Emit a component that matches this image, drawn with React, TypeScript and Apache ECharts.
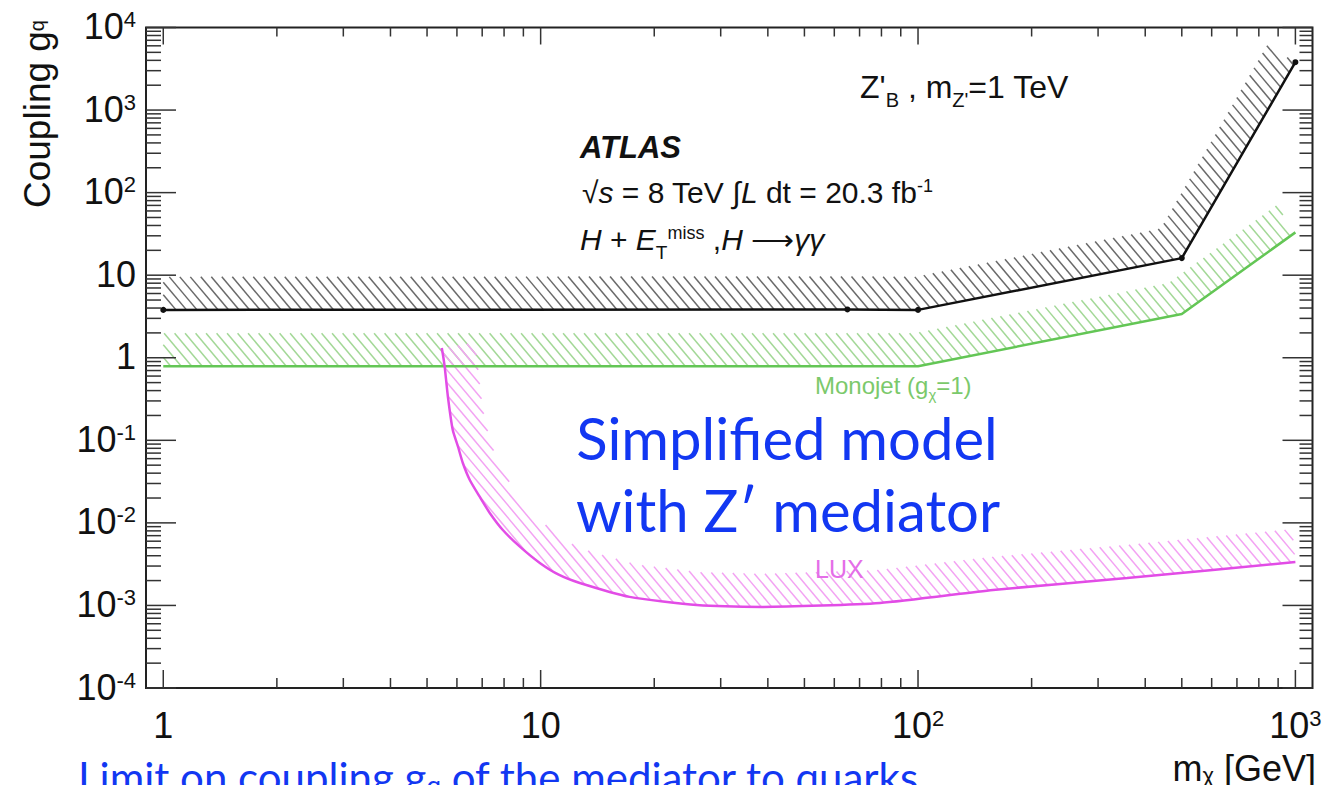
import React, { useEffect, useRef } from "react";
import * as echarts from "echarts";

// ---------------- data ----------------
const X_RANGE = [0.9, 1110];
const Y_RANGE = [1e-4, 1e4];
const X_MAJOR = [1, 10, 100, 1000];
const Y_MAJOR = [1e-4, 1e-3, 1e-2, 1e-1, 1, 10, 100, 1000, 10000];
const MINOR_MULTIPLES = [2, 3, 4, 5, 6, 7, 8, 9];

// ATLAS H + E_T^miss, H -> gamma gamma limit
const ATLAS_X = [1, 65, 100, 500, 1000];
const ATLAS_Y = [3.8, 3.85, 3.8, 16.1, 3800];
// Monojet (g_chi = 1)
const MONO_X = [1, 100, 500, 1000];
const MONO_Y = [0.79, 0.79, 3.38, 33];
// LUX
const LUX_X = [5.47, 5.52, 5.57, 5.68, 5.85, 6.04, 6.22, 6.49, 6.9, 7.33, 7.94, 8.81, 9.95, 11.2, 12.7, 17.2, 25.9, 38.8, 79.3, 158, 358, 1000];
const LUX_Y = [1.31, 1.03, 0.77, 0.334, 0.133, 0.0836, 0.0531, 0.0331, 0.0206, 0.0132, 0.0082, 0.00515, 0.00327, 0.00234, 0.00187, 0.00127, 0.00101, 0.00096, 0.00107, 0.00154, 0.00215, 0.00336];

// ---------------- styles ----------------
const ROOT_FONT = "'Liberation Sans', Arial, Helvetica, sans-serif";
const BLUE_FONT = "Lato, 'Noto Sans', sans-serif";
const TICK_COLOR = "#333";
const BLUE = "#1237f2";
const HATCH_ANGLE = 50;
const HATCH_STEP = 10.5;
const HATCH_WIDTH = 33;

// rich-text helper: main tokens top-aligned, subscripts bottom-aligned,
// superscripts top-aligned; returns the y shift that keeps the main text
// centred on the anchor.
function richFor(F: number, family: string, fill: string, drop = 0.4, subFrac = 0.62, supFrac = 0.6) {
  const f = Math.round(F * subFrac);
  const fs = Math.round(F * supFrac);
  const centred = drop <= 0.001;
  const LH = centred ? F : Math.max(F, Math.round(drop * F + (F + f) / 2));
  return {
    shift: (LH - F) / 2,
    rich: {
      n: { fontSize: F, lineHeight: LH, verticalAlign: "top", fontFamily: family, fill },
      i: { fontSize: F, lineHeight: LH, verticalAlign: "top", fontFamily: family, fontStyle: "italic", fill },
      sb: { fontSize: f, lineHeight: f, verticalAlign: centred ? "middle" : "bottom", fontFamily: family, fill },
      sp: { fontSize: fs, lineHeight: fs, verticalAlign: "top", fontFamily: family, fill },
    },
  };
}

const TICK_RICH = {
  n: { fontSize: 36, lineHeight: 44, verticalAlign: "top", fontFamily: ROOT_FONT, fill: "#111" },
  sp: { fontSize: 22, lineHeight: 24, verticalAlign: "top", fontFamily: ROOT_FONT, fill: "#111" },
};

function expLabel(v: number) {
  const e = Math.round(Math.log10(v));
  if (e === 0) return "{n|1}";
  if (e === 1) return "{n|10}";
  return "{n|10}{sp|" + e + "}";
}

function makeHatch(xs: number[], ys: number[], color: string) {
  return (params: any, api: any) => {
    if (params.dataIndex !== 0) return null;
    const pts: number[][] = xs.map((x, i) => api.coord([x, ys[i]]));
    const n = pts.length;
    const segN: number[][] = [];
    for (let i = 0; i < n - 1; i++) {
      const dx = pts[i + 1][0] - pts[i][0];
      const dy = pts[i + 1][1] - pts[i][1];
      const L = Math.hypot(dx, dy) || 1;
      segN.push([dy / L, -dx / L]);
    }
    const off = pts.map((p, i) => {
      let nx: number, ny: number;
      if (i === 0) { nx = segN[0][0]; ny = segN[0][1]; }
      else if (i === n - 1) { nx = segN[n - 2][0]; ny = segN[n - 2][1]; }
      else {
        const a = segN[i - 1], b = segN[i];
        let mx = a[0] + b[0], my = a[1] + b[1];
        const ml = Math.hypot(mx, my) || 1;
        mx /= ml; my /= ml;
        const c = Math.max(0.5, mx * a[0] + my * a[1]);
        nx = mx / c; ny = my / c;
      }
      return [p[0] + nx * HATCH_WIDTH, p[1] + ny * HATCH_WIDTH];
    });
    const poly = pts.concat(off.slice().reverse());
    const ang = (HATCH_ANGLE * Math.PI) / 180;
    const hx = Math.cos(ang), hy = Math.sin(ang);
    const nvx = Math.sin(ang), nvy = -Math.cos(ang);
    const d = HATCH_STEP * Math.sin(ang);
    let cmin = Infinity, cmax = -Infinity;
    poly.forEach((p) => {
      const c = p[0] * nvx + p[1] * nvy;
      if (c < cmin) cmin = c;
      if (c > cmax) cmax = c;
    });
    const children: any[] = [];
    const m = poly.length;
    for (let c = Math.ceil(cmin / d) * d; c <= cmax; c += d) {
      const hits: { u: number; x: number; y: number }[] = [];
      for (let i = 0; i < m; i++) {
        const A = poly[i], B = poly[(i + 1) % m];
        const fa = A[0] * nvx + A[1] * nvy - c;
        const fb = B[0] * nvx + B[1] * nvy - c;
        if ((fa < 0) !== (fb < 0)) {
          const t = fa / (fa - fb);
          const x = A[0] + t * (B[0] - A[0]);
          const y = A[1] + t * (B[1] - A[1]);
          hits.push({ u: x * hx + y * hy, x, y });
        }
      }
      hits.sort((p, q) => p.u - q.u);
      for (let k = 0; k + 1 < hits.length; k += 2) {
        children.push({
          type: "line",
          shape: { x1: hits[k].x, y1: hits[k].y, x2: hits[k + 1].x, y2: hits[k + 1].y },
          style: { stroke: color, lineWidth: 1.5 },
        });
      }
    }
    return { type: "group", children };
  };
}

function richText(x: number, y: number, text: string, r: { shift: number; rich: any }, align = "left") {
  return {
    type: "text",
    x,
    y: y + r.shift,
    z: 20,
    style: { text, rich: r.rich, align, verticalAlign: "middle" },
  };
}

export default function App() {
  const ref = useRef<HTMLDivElement>(null);

  useEffect(() => {
    document.body.style.margin = "0";
    if (!ref.current) return;
    const chart = echarts.init(ref.current, undefined, { renderer: "svg" });

    const xTicks: number[][] = X_MAJOR.map((v) => [v, 1, 1]);
    for (let e = -1; e <= 3; e++) {
      MINOR_MULTIPLES.forEach((mm) => {
        const v = mm * Math.pow(10, e);
        if (v > X_RANGE[0] * 1.01 && v < X_RANGE[1] * 0.99) xTicks.push([v, 1, 0]);
      });
    }
    const yTicks: number[][] = Y_MAJOR.map((v) => [1, v, 1]);
    for (let e = -4; e <= 3; e++) {
      MINOR_MULTIPLES.forEach((mm) => yTicks.push([1, mm * Math.pow(10, e), 0]));
    }

    const axisCommon = {
      axisLine: { show: false },
      axisTick: { show: false },
      axisLabel: { show: false },
      splitLine: { show: false },
      minorTick: { show: false },
      minorSplitLine: { show: false },
    };

    const rModel = richFor(32, ROOT_FONT, "#111", 0.4);
    const rLumi = richFor(30, ROOT_FONT, "#111", 0.4);
    const rChan = richFor(30, ROOT_FONT, "#111", 0.45);
    const rMono = richFor(24, ROOT_FONT, "#7bc96b", 0.4);
    const rCap = richFor(42, BLUE_FONT, BLUE, 0.1);
    const rYT = richFor(37, ROOT_FONT, "#111", 0, 0.55);
    const rXT = richFor(36, ROOT_FONT, "#111", 0.17);

    const option: any = {
      animation: false,
      backgroundColor: "#fff",
      grid: {
        left: 146,
        top: 27.5,
        width: 1166.5,
        height: 660.5,
        show: true,
        borderColor: "#222",
        borderWidth: 2,
        backgroundColor: "transparent",
      },
      xAxis: { type: "log", logBase: 10, min: X_RANGE[0], max: X_RANGE[1], ...axisCommon },
      yAxis: { type: "log", logBase: 10, min: Y_RANGE[0], max: Y_RANGE[1], ...axisCommon },
      series: [
        {
          type: "custom",
          name: "monojet-hatch",
          renderItem: makeHatch(MONO_X, MONO_Y, "#a3d897"),
          data: [[MONO_X[0], MONO_Y[0]]],
          z: 2,
          silent: true,
        },
        {
          type: "custom",
          name: "lux-hatch",
          renderItem: makeHatch(LUX_X, LUX_Y, "#f3a3f3"),
          data: [[LUX_X[0], LUX_Y[0]]],
          z: 2,
          silent: true,
        },
        {
          type: "custom",
          name: "atlas-hatch",
          renderItem: makeHatch(ATLAS_X, ATLAS_Y, "#6a6a6a"),
          data: [[ATLAS_X[0], ATLAS_Y[0]]],
          z: 2,
          silent: true,
        },
        {
          type: "line",
          name: "Monojet",
          data: MONO_X.map((x, i) => [x, MONO_Y[i]]),
          showSymbol: false,
          symbol: "none",
          lineStyle: { color: "#63c655", width: 2.5 },
          z: 5,
          silent: true,
        },
        {
          type: "line",
          name: "LUX",
          data: LUX_X.map((x, i) => [x, LUX_Y[i]]),
          showSymbol: false,
          symbol: "none",
          smooth: 0.2,
          lineStyle: { color: "#e24ce6", width: 2.5 },
          z: 5,
          silent: true,
        },
        {
          type: "line",
          name: "ATLAS",
          data: ATLAS_X.map((x, i) => [x, ATLAS_Y[i]]),
          symbol: "circle",
          symbolSize: 6,
          showSymbol: true,
          itemStyle: { color: "#111" },
          lineStyle: { color: "#111", width: 2.5 },
          z: 6,
          silent: true,
        },
        {
          type: "custom",
          name: "x-ticks",
          data: xTicks,
          z: 10,
          silent: true,
          renderItem: (params: any, api: any) => {
            const v = api.value(0);
            const major = api.value(2) === 1;
            const cs = params.coordSys;
            const px = api.coord([v, 1])[0];
            const top = cs.y, bottom = cs.y + cs.height;
            const lb = major ? 18 : 10;
            const lt = major ? 17 : 9;
            const ch: any[] = [
              { type: "line", shape: { x1: px, y1: bottom, x2: px, y2: bottom - lb }, style: { stroke: TICK_COLOR, lineWidth: 1.5 } },
              { type: "line", shape: { x1: px, y1: top, x2: px, y2: top + lt }, style: { stroke: TICK_COLOR, lineWidth: 1.5 } },
            ];
            if (major) {
              ch.push({
                type: "text",
                x: px,
                y: bottom + 41,
                style: { text: expLabel(v), rich: TICK_RICH, align: "center", verticalAlign: "middle", fill: "#111" },
              });
            }
            return { type: "group", children: ch };
          },
        },
        {
          type: "custom",
          name: "y-ticks",
          data: yTicks,
          z: 10,
          silent: true,
          renderItem: (params: any, api: any) => {
            const v = api.value(1);
            const major = api.value(2) === 1;
            const cs = params.coordSys;
            const py = api.coord([1, v])[1];
            const L = cs.x, R = cs.x + cs.width;
            const ll = major ? 30 : 15;
            const lr = major ? 30 : 13;
            const ch: any[] = [
              { type: "line", shape: { x1: L, y1: py, x2: L + ll, y2: py }, style: { stroke: TICK_COLOR, lineWidth: 1.5 } },
              { type: "line", shape: { x1: R, y1: py, x2: R - lr, y2: py }, style: { stroke: TICK_COLOR, lineWidth: 1.5 } },
            ];
            if (major) {
              ch.push({
                type: "text",
                x: L - 10,
                y: py + 3,
                style: { text: expLabel(v), rich: TICK_RICH, align: "right", verticalAlign: "middle", fill: "#111" },
              });
            }
            return { type: "group", children: ch };
          },
        },
      ],
      graphic: [
        richText(860, 87, "{n|Z'}{sb|B}{n| , m}{sb|Z'}{n|=1 TeV}", rModel),
        {
          type: "text",
          x: 580,
          y: 147,
          z: 20,
          style: {
            text: "ATLAS",
            fontSize: 31,
            fontFamily: ROOT_FONT,
            fontWeight: "bold",
            fontStyle: "italic",
            fill: "#111",
            align: "left",
            verticalAlign: "middle",
          },
        },
        richText(582, 192, "{n|√}{i|s}{n| = 8 TeV ∫}{i|L}{n| dt = 20.3 fb}{sp|-1}", rLumi),
        richText(580, 239, "{i|H}{n| + }{i|E}{sb|T}{sp|miss}{n| ,}{i|H}{n| ⟶}{i|γγ}", rChan),
        richText(815, 385, "{n|Monojet (g}{sb|χ}{n|=1)}", rMono),
        {
          type: "text",
          x: 815,
          y: 569,
          z: 20,
          style: {
            text: "LUX",
            fontSize: 25,
            fontFamily: ROOT_FONT,
            fill: "#e46ee8",
            align: "left",
            verticalAlign: "middle",
          },
        },
        {
          type: "text",
          x: 787,
          y: 437,
          z: 20,
          style: {
            text: "Simplified model",
            fontSize: 58,
            fontFamily: BLUE_FONT,
            fill: BLUE,
            align: "center",
            verticalAlign: "middle",
          },
        },
        {
          type: "text",
          x: 788,
          y: 509,
          z: 20,
          style: {
            text: "with Z′ mediator",
            fontSize: 58,
            fontFamily: BLUE_FONT,
            fill: BLUE,
            align: "center",
            verticalAlign: "middle",
          },
        },
        richText(78, 777, "{n|Limit on coupling g}{sb|q}{n| of the mediator to quarks.}", rCap),
        {
          type: "text",
          x: 37 + rYT.shift,
          y: 20,
          rotation: Math.PI / 2,
          z: 20,
          style: {
            text: "{n|Coupling g}{sb|q}",
            rich: rYT.rich,
            align: "right",
            verticalAlign: "middle",
          },
        },
        richText(1316, 768, "{n|m}{sb|χ}{n| [GeV]}", rXT, "right"),
      ],
    };

    chart.setOption(option);
    return () => {
      chart.dispose();
    };
  }, []);

  return <div ref={ref} style={{ width: 1334, height: 785 }} />;
}
